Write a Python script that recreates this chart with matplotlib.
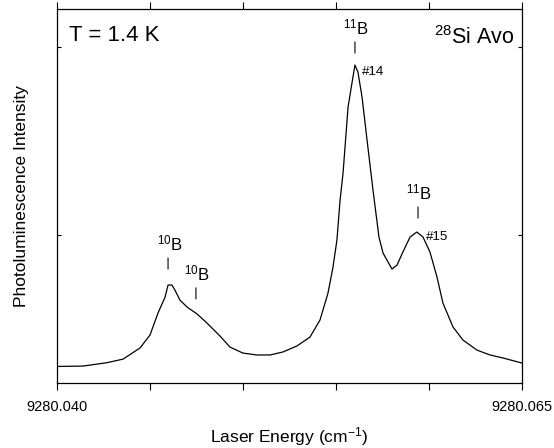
#!/usr/bin/env python3
# -*- coding: utf-8 -*-

"""
Photoluminescence spectrum of boron lines in 28Si Avo at 1.4 K.
"""

### Import Space ###

import numpy as np
import matplotlib
matplotlib.use("Agg")
import matplotlib.pyplot as plt

### Global Var/stat ###

plt.rcParams['font.family'] = ['Liberation Sans', 'DejaVu Sans']
plt.rcParams['mathtext.fontset'] = 'custom'
plt.rcParams['mathtext.rm'] = 'Liberation Sans'
plt.rcParams['mathtext.it'] = 'Liberation Sans'

# laser energy (cm-1) and PL intensity (arb. units)
energy = [9280.04000, 9280.04140, 9280.04269, 9280.04355, 9280.04446,
          9280.04500, 9280.04543, 9280.04581, 9280.04597, 9280.04618,
          9280.04634, 9280.04661, 9280.04699, 9280.04753, 9280.04806,
          9280.04876, 9280.04930, 9280.05000, 9280.05075, 9280.05145,
          9280.05215, 9280.05290, 9280.05360, 9280.05414, 9280.05457,
          9280.05484, 9280.05505, 9280.05522, 9280.05538, 9280.05565,
          9280.05586, 9280.05602, 9280.05618, 9280.05640, 9280.05667,
          9280.05699, 9280.05731, 9280.05753, 9280.05801, 9280.05828,
          9280.05860, 9280.05898, 9280.05935, 9280.05968, 9280.06005,
          9280.06043, 9280.06075, 9280.06129, 9280.06183, 9280.06258,
          9280.06328, 9280.06398, 9280.06500]
intensity = [0.301, 0.303, 0.321, 0.340, 0.399,
             0.468, 0.585, 0.670, 0.734, 0.734,
             0.707, 0.654, 0.617, 0.580, 0.532,
             0.463, 0.404, 0.372, 0.362, 0.362,
             0.378, 0.410, 0.457, 0.548, 0.691,
             0.830, 0.973, 1.186, 1.330, 1.681,
             1.809, 1.904, 1.867, 1.734, 1.505,
             1.239, 0.989, 0.904, 0.819, 0.840,
             0.910, 0.989, 1.016, 0.989, 0.910,
             0.777, 0.638, 0.511, 0.441, 0.388,
             0.362, 0.346, 0.319]

# isotope line markers: energy, intensity at bottom of the tick, mass number
line_energy = [9280.04597, 9280.04747, 9280.05602, 9280.05941]
line_level = [0.819, 0.660, 1.968, 1.090]
line_mass = ["10", "10", "11", "11"]

# line numbers next to the 11B peaks
number_energy = [9280.05640, 9280.05986]
number_level = [1.867, 0.989]
number_text = ["#14", "#15"]

x_ticks = [9280.040, 9280.045, 9280.050, 9280.055, 9280.060, 9280.065]
x_tick_labels = ["9280.040", "", "", "", "", "9280.065"]

### Running Script Space ###

if __name__ == '__main__':
    figure = plt.figure(figsize=(5.54, 4.48), dpi=100)
    ax = figure.add_axes([0.1029, 0.1451, 0.8393, 0.8348])

    ax.plot(energy, intensity, color="black", linewidth=0.9)

    for e, lvl, m in zip(line_energy, line_level, line_mass):
        ax.annotate("", xy=(e, lvl), xytext=(0, 8), textcoords="offset points",
                    arrowprops=dict(arrowstyle="-", color="black", lw=0.8,
                                    shrinkA=0, shrinkB=0))
        ax.annotate("$^{" + m + "}$B", xy=(e, lvl), xytext=(1, 11),
                    textcoords="offset points", ha="center", va="bottom",
                    fontsize=12)

    for e, lvl, t in zip(number_energy, number_level, number_text):
        ax.text(e, lvl, t, fontsize=9.5, ha="left", va="center")

    ax.text(0.025, 0.958, "T = 1.4 K", transform=ax.transAxes,
            fontsize=16, ha="left", va="top")
    ax.text(0.985, 0.955, "$^{28}$Si Avo", transform=ax.transAxes,
            fontsize=15.5, ha="right", va="top")

    ax.set_xlim(9280.040, 9280.065)
    ax.set_ylim(0.213, 2.202)
    ax.set_xticks(x_ticks)
    ax.set_xticklabels(x_tick_labels, fontsize=10.5)
    ax.set_yticks([1, 2])
    ax.set_yticklabels([])
    ax.tick_params(axis="x", direction="out", length=5, width=0.8,
                   top=True, pad=7)
    ax.tick_params(axis="y", direction="in", length=3, width=0.8,
                   right=True)
    for side in ax.spines.values():
        side.set_linewidth(0.9)

    ax.set_xlabel("Laser Energy (cm$^{-1}$)", fontsize=12.5, labelpad=8)
    ax.set_ylabel("Photoluminescence Intensity", fontsize=12.5, labelpad=17)

    figure.savefig("out.png", dpi=100)
